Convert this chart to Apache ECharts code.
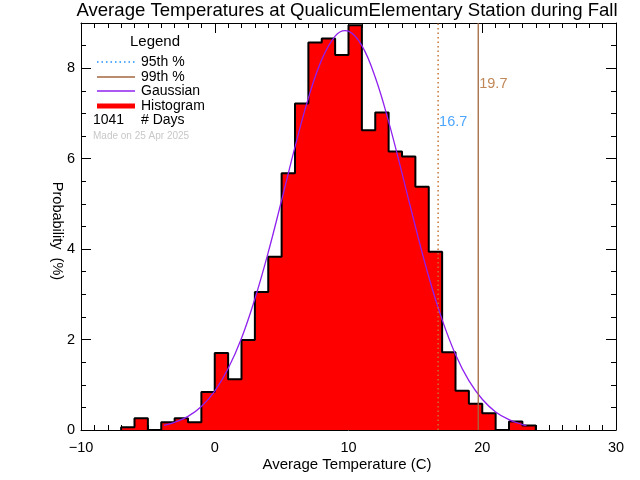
<!DOCTYPE html>
<html>
<head>
<meta charset="utf-8">
<script src="https://cdn.jsdelivr.net/npm/echarts@6/dist/echarts.min.js"></script>
<style>html,body{margin:0;padding:0;background:#fff}#c{width:640px;height:480px}</style>
</head>
<body>
<div id="c"></div>
<script>
// Histogram: left bin edges (1 °C wide) and probabilities (%)
const binStarts = [-7,-6,-5,-4,-3,-2,-1,0,1,2,3,4,5,6,7,8,9,10,11,12,13,14,15,16,17,18,19,20,21,22,23];
const binValues = [0.06,0.26,0,0.17,0.26,0.17,0.84,1.70,1.12,1.99,3.05,3.83,5.68,7.22,8.57,8.66,8.29,8.95,6.63,7.02,6.16,6.05,5.38,3.94,1.72,0.87,0.58,0.37,0,0.19,0.10];
const binWidth = 1;
// Gaussian curve
const gaussX = [-3.8,-3,-2,-1,0,1,2,3,4,5,6,7,8,9,9.75,10,11,12,13,14,15,16,17,18,19,20,21,22,23,23.3];
const gaussY = [0.10,0.17,0.30,0.52,0.86,1.36,2.03,2.90,3.93,5.08,6.26,7.34,8.19,8.71,8.83,8.82,8.50,7.80,6.82,5.68,4.50,3.39,2.44,1.67,1.09,0.68,0.40,0.23,0.12,0.10];
// Percentiles
const p95 = 16.7;
const p99 = 19.7;
const p95LabelY = 6.81;
const p99LabelY = 7.65;
const nDays = 1041;
const xTicks = { min: -10, max: 30, interval: 10 };
const yTicks = { min: 0, max: 9, interval: 2 };

const histPts = [[binStarts[0], 0]];
binStarts.forEach((x, i) => histPts.push([x, binValues[i]]));
histPts.push([binStarts[binStarts.length - 1] + binWidth, 0]);
const gaussPts = gaussX.map((x, i) => [x, gaussY[i]]);

const FONT = 'Liberation Sans';
const chart = echarts.init(document.getElementById('c'), null, { renderer: 'canvas' });

function xAxisDef(pos, labels) {
  return {
    type: 'value', position: pos, min: xTicks.min, max: xTicks.max, interval: xTicks.interval,
    axisLine: { show: true, onZero: false, lineStyle: { color: '#000', width: 1 } },
    axisTick: { show: true, inside: true, length: 10, lineStyle: { color: '#000' } },
    minorTick: { show: true, splitNumber: 10, length: 5, lineStyle: { color: '#000' } },
    splitLine: { show: false },
    axisLabel: { show: labels, color: '#000', fontFamily: FONT, fontSize: 14.5, margin: 10,
      formatter: v => (v < 0 ? '\u2212' + Math.abs(v) : String(v)) }
  };
}
function yAxisDef(pos, labels) {
  return {
    type: 'value', position: pos, min: yTicks.min, max: yTicks.max, interval: yTicks.interval,
    axisLine: { show: true, onZero: false, lineStyle: { color: '#000', width: 1 } },
    axisTick: { show: true, inside: true, length: 10, lineStyle: { color: '#000' } },
    minorTick: { show: true, splitNumber: 4, length: 5, lineStyle: { color: '#000' } },
    splitLine: { show: false },
    axisLabel: { show: labels, color: '#000', fontFamily: FONT, fontSize: 14.5, margin: 6, showMaxLabel: false,
      formatter: v => (Math.abs(v % yTicks.interval) < 1e-9 ? String(v) : '') }
  };
}

const legendRows = [
  { y: 62, text: '95th %', color: '#1e90ff', type: [1.5, 3], w: 1.5 },
  { y: 77, text: '99th %', color: '#a5673f', type: 'solid', w: 1.5 },
  { y: 91, text: 'Gaussian', color: '#9020ee', type: 'solid', w: 1.5 },
  { y: 106, text: 'Histogram', color: '#ff0000', type: 'solid', w: 5 }
];
const graphics = [
  { type: 'text', x: 347, y: 11, style: { text: 'Average Temperatures at QualicumElementary Station during Fall', fill: '#000', font: '18.6px "Liberation Sans"', textAlign: 'center', textVerticalAlign: 'middle' } },
  { type: 'text', x: 347, y: 465, style: { text: 'Average Temperature (C)', fill: '#000', font: '15px "Liberation Sans"', textAlign: 'center', textVerticalAlign: 'middle' } },
  { type: 'text', x: 57, y: 231, rotation: -Math.PI / 2, style: { text: 'Probability  (%)', fill: '#000', font: '14.5px "Liberation Sans"', textAlign: 'center', textVerticalAlign: 'middle' } },
  { type: 'text', x: 155, y: 42, style: { text: 'Legend', fill: '#000', font: '15px "Liberation Sans"', textAlign: 'center', textVerticalAlign: 'middle' } },
  { type: 'text', x: 93, y: 120, style: { text: String(nDays), fill: '#000', font: '14px "Liberation Sans"', textVerticalAlign: 'middle' } },
  { type: 'text', x: 141, y: 120, style: { text: '# Days', fill: '#000', font: '14px "Liberation Sans"', textVerticalAlign: 'middle' } },
  { type: 'text', x: 93, y: 136, style: { text: 'Made on 25 Apr 2025', fill: '#c8c8c8', font: '10px "Liberation Sans"', textVerticalAlign: 'middle' } }
];
legendRows.forEach(r => {
  graphics.push({ type: 'line', shape: { x1: 97, y1: r.y, x2: 135, y2: r.y }, style: { stroke: r.color, lineWidth: r.w, lineDash: r.type === 'solid' ? null : r.type } });
  graphics.push({ type: 'text', x: 141, y: r.y, style: { text: r.text, fill: '#000', font: '14px "Liberation Sans"', textVerticalAlign: 'middle' } });
});

chart.setOption({
  animation: false,
  backgroundColor: '#fff',
  grid: { left: 81, right: 24, top: 23, bottom: 50, containLabel: false },
  xAxis: [xAxisDef('bottom', true), xAxisDef('top', false)],
  yAxis: [yAxisDef('left', true), yAxisDef('right', false)],
  graphic: graphics,
  series: [
    { type: 'line', name: 'Histogram', data: histPts, step: 'end', symbol: 'none', z: 2,
      lineStyle: { color: '#000', width: 2 }, areaStyle: { color: '#ff0000', opacity: 1 } },
    { type: 'line', name: 'Gaussian', data: gaussPts, smooth: 0.4, symbol: 'none', z: 4,
      lineStyle: { color: '#9020ee', width: 1.3 } },
    { type: 'line', name: '95th', data: [[p95, yTicks.min], [p95, yTicks.max]], symbol: 'none', z: 5,
      lineStyle: { color: '#c87533', width: 1.5, type: [1.5, 3] } },
    { type: 'line', name: '99th', data: [[p99, yTicks.min], [p99, yTicks.max]], symbol: 'none', z: 5,
      lineStyle: { color: '#a5673f', width: 1.3 } },
    { type: 'scatter', data: [[p95, p95LabelY]], symbolSize: 0, z: 6,
      label: { show: true, position: 'right', distance: 1, formatter: () => p95.toFixed(1), color: '#1e90ff', fontFamily: FONT, fontSize: 14.5 } },
    { type: 'scatter', data: [[p99, p99LabelY]], symbolSize: 0, z: 6,
      label: { show: true, position: 'right', distance: 1, formatter: () => p99.toFixed(1), color: '#b0682a', fontFamily: FONT, fontSize: 14.5 } }
  ]
});
</script>
</body>
</html>
